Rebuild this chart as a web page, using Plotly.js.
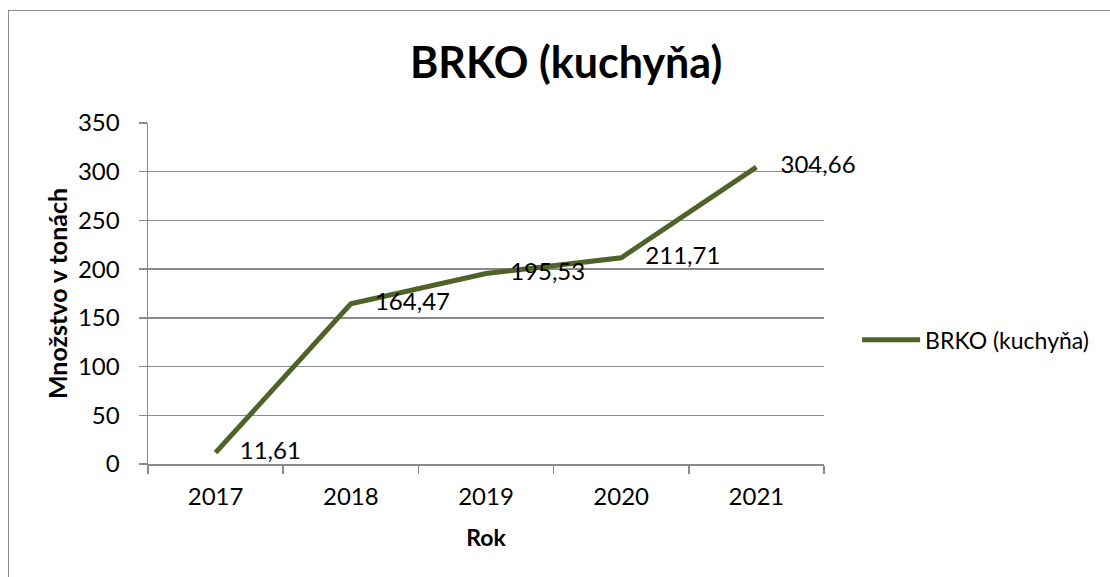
<!DOCTYPE html>
<html>
<head>
<meta charset="utf-8">
<script src="https://cdn.plot.ly/plotly-3.0.1.min.js"></script>
<style>
  html, body { margin: 0; padding: 0; background: #fff; overflow: hidden; }
  #wrap { position: relative; width: 1110px; height: 577px; }
  #chart { width: 1110px; height: 577px; }
  #frame { position: absolute; left: 8px; top: 10px; width: 1200px; height: 700px;
           border-left: 1.5px solid #8a8a8a; border-top: 1.5px solid #8a8a8a; pointer-events: none; }
</style>
</head>
<body>
<div id="wrap">
  <div id="chart"></div>
  <div id="frame"></div>
</div>
<script>
const years = ['2017', '2018', '2019', '2020', '2021'];
const values = [11.61, 164.47, 195.53, 211.71, 304.66];
const labels = ['11,61', '164,47', '195,53', '211,71', '304,66'];
const seriesName = 'BRKO (kuchyňa)';
const yTicks = [0, 50, 100, 150, 200, 250, 300, 350];

const gridGray = '#8a8a8a';
const lineGreen = '#4F6228';
const fontFam = 'Lato, "Open Sans", sans-serif';

const trace = {
  type: 'scatter',
  mode: 'lines+markers+text',
  x: years,
  y: values,
  name: seriesName,
  text: labels,
  textposition: 'middle right',
  textfont: { family: fontFam, size: 24, color: '#000' },
  line: { color: lineGreen, width: 5 },
  marker: { size: 37, color: 'rgba(0,0,0,0)' },
  cliponaxis: false,
  hoverinfo: 'skip'
};

const layout = {
  width: 1110,
  height: 577,
  margin: { l: 148, r: 286, t: 123, b: 113 },
  paper_bgcolor: 'rgba(0,0,0,0)',
  plot_bgcolor: '#fff',
  font: { family: fontFam, size: 24, color: '#000' },
  title: {
    text: '<b>BRKO (kuchyňa)</b>',
    font: { family: fontFam, size: 43, color: '#000' },
    xref: 'container', x: 0.51, xanchor: 'center',
    yref: 'container', y: 1 - 63 / 577, yanchor: 'middle'
  },
  showlegend: true,
  legend: {
    x: 1.049, xanchor: 'left', y: 0.364, yanchor: 'middle',
    itemwidth: 58,
    font: { family: fontFam, size: 23, color: '#000' },
    bgcolor: 'rgba(0,0,0,0)'
  },
  xaxis: {
    type: 'category',
    range: [-0.5, 4.5],
    tickson: 'boundaries',
    ticks: 'outside', ticklen: 8, tickwidth: 1.5, tickcolor: gridGray,
    showline: true, linecolor: gridGray, linewidth: 1.5,
    showgrid: false, zeroline: false,
    ticklabelstandoff: 11,
    tickfont: { family: fontFam, size: 24, color: '#000' },
    title: { text: '<b>Rok</b>', font: { family: fontFam, size: 23, color: '#000' }, standoff: 20 },
    fixedrange: true
  },
  yaxis: {
    range: [0, 350],
    tickvals: yTicks,
    ticks: 'outside', ticklen: 8, tickwidth: 1.5, tickcolor: gridGray,
    showline: true, linecolor: gridGray, linewidth: 1.5,
    showgrid: true, gridcolor: gridGray, gridwidth: 1.5,
    zeroline: false,
    ticklabelstandoff: 14,
    tickfont: { family: fontFam, size: 24, color: '#000' },
    title: { text: '<b>Množstvo v tonách</b>', font: { family: fontFam, size: 25, color: '#000' }, standoff: 3 },
    fixedrange: true
  }
};

Plotly.newPlot('chart', [trace], layout, { displayModeBar: false, staticPlot: true });
</script>
</body>
</html>
